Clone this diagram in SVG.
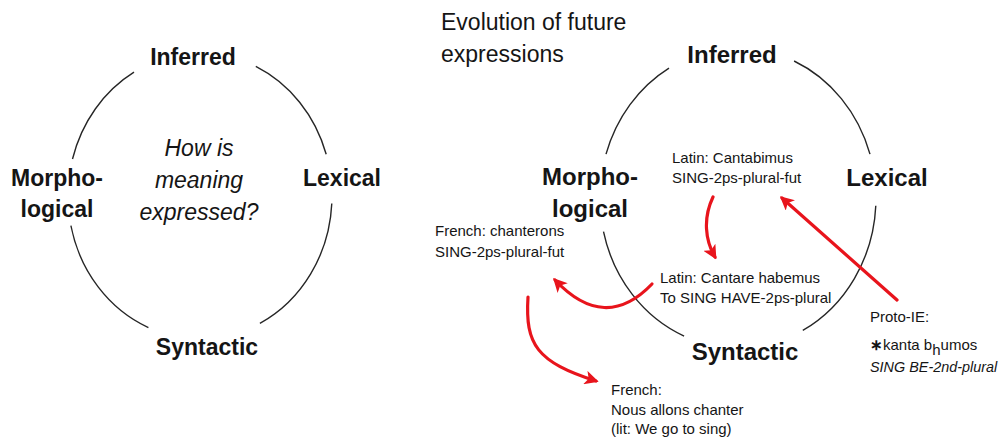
<svg xmlns="http://www.w3.org/2000/svg" width="1006" height="442" viewBox="0 0 1006 442">
  <style>
    .bg { fill: #ffffff; }
    .arc { fill: none; stroke: #262626; stroke-width: 1.4; }
    .flow { fill: none; stroke: #e8141c; stroke-width: 3.2; stroke-linecap: round; }
    text { font-family: "Liberation Sans", Arial, sans-serif; fill: #151515; }
    .big { font-size: 23px; font-weight: bold; text-anchor: middle; }
    .big2 { font-size: 24px; font-weight: bold; text-anchor: middle; }
    .q { font-size: 23px; font-style: italic; text-anchor: middle; }
    .title { font-size: 23px; }
    .small { font-size: 15px; }
    .it { font-style: italic; font-size: 14.4px; }
  </style>
  <defs>
    <marker id="redHead" viewBox="0 0 10 10" refX="8" refY="5" markerWidth="14" markerHeight="14" markerUnits="userSpaceOnUse" orient="auto">
      <path d="M0,0 L10,5 L0,10 L2.5,5 z" fill="#e8141c"/>
    </marker>
  </defs>

  <rect class="bg" width="1006" height="442"/>

  <!-- Left wheel: four arcs of one ellipse, centre (200,196) -->
  <g id="wheel-left">
    <path class="arc" d="M72.5,159 A132,143 0 0 1 134,72.2"/>
    <path class="arc" d="M255.8,66.4 A132,143 0 0 1 326.2,154.2"/>
    <path class="arc" d="M331.8,203.5 A132,143 0 0 1 259.9,323.4"/>
    <path class="arc" d="M148.4,327.6 A132,143 0 0 1 70.9,225.7"/>
  </g>

  <g id="left-inferred"><text class="big" x="193" y="65">Inferred</text></g>
  <g id="left-morphological">
    <text class="big" x="57" y="186">Morpho-</text>
    <text class="big" x="57" y="217">logical</text>
  </g>
  <g id="left-lexical"><text class="big" x="342" y="186">Lexical</text></g>
  <g id="left-syntactic"><text class="big" x="207" y="355">Syntactic</text></g>
  <g id="left-question">
    <text class="q" x="199" y="156">How is</text>
    <text class="q" x="199" y="188">meaning</text>
    <text class="q" x="199" y="220">expressed?</text>
  </g>

  <!-- Right wheel: centre (738,198) -->
  <g id="title"><text class="title" x="441" y="30">Evolution of future</text>
    <text class="title" x="441" y="62">expressions</text></g>

  <g id="wheel-right">
    <path class="arc" d="M606,154.1 A138,150 0 0 1 669,68.1"/>
    <path class="arc" d="M794.1,61 A138,150 0 0 1 870,154.1"/>
    <path class="arc" d="M875.8,205.8 A138,150 0 0 1 802.8,330.4"/>
    <path class="arc" d="M684.1,336.1 A138,150 0 0 1 603.5,231.7"/>
  </g>

  <g id="right-inferred"><text class="big2" x="732" y="63">Inferred</text></g>
  <g id="right-morphological">
    <text class="big2" x="590" y="185">Morpho-</text>
    <text class="big2" x="590" y="217">logical</text>
  </g>
  <g id="right-lexical"><text class="big2" x="887" y="186">Lexical</text></g>
  <g id="right-syntactic"><text class="big2" x="745" y="360">Syntactic</text></g>

  <g id="latin-cantabimus">
    <text class="small" x="672" y="163">Latin: Cantabimus</text>
    <text class="small" x="672" y="183">SING-2ps-plural-fut</text>
  </g>
  <g id="latin-cantare-habemus">
    <text class="small" x="660" y="283">Latin: Cantare habemus</text>
    <text class="small" x="660" y="303">To SING HAVE-2ps-plural</text>
  </g>
  <g id="french-chanterons">
    <text class="small" x="435" y="236">French: chanterons</text>
    <text class="small" x="435" y="257">SING-2ps-plural-fut</text>
  </g>
  <g id="french-allons-chanter">
    <text class="small" x="611" y="395">French:</text>
    <text class="small" x="611" y="415">Nous allons chanter</text>
    <text class="small" x="611" y="434">(lit: We go to sing)</text>
  </g>
  <g id="proto-ie">
    <text class="small" x="870" y="322">Proto-IE:</text>
    <text class="small" x="870" y="350"><tspan font-weight="bold">∗</tspan>kanta b<tspan dy="5">h</tspan><tspan dy="-5">umos</tspan></text>
    <text class="small it" x="870" y="372">SING BE-2nd-plural</text>
  </g>

  <!-- Red derivation arrows -->
  <g id="connectors">
    <path class="flow" marker-end="url(#redHead)" d="M713,197 C703,218 705,240 715,257"/>
    <path class="flow" marker-end="url(#redHead)" d="M897,300 L782,198"/>
    <path class="flow" marker-end="url(#redHead)" d="M652,284 Q605,333 555,280"/>
    <path class="flow" marker-end="url(#redHead)" d="M528,297 C525,345 537,362 596,381"/>
  </g>
</svg>
